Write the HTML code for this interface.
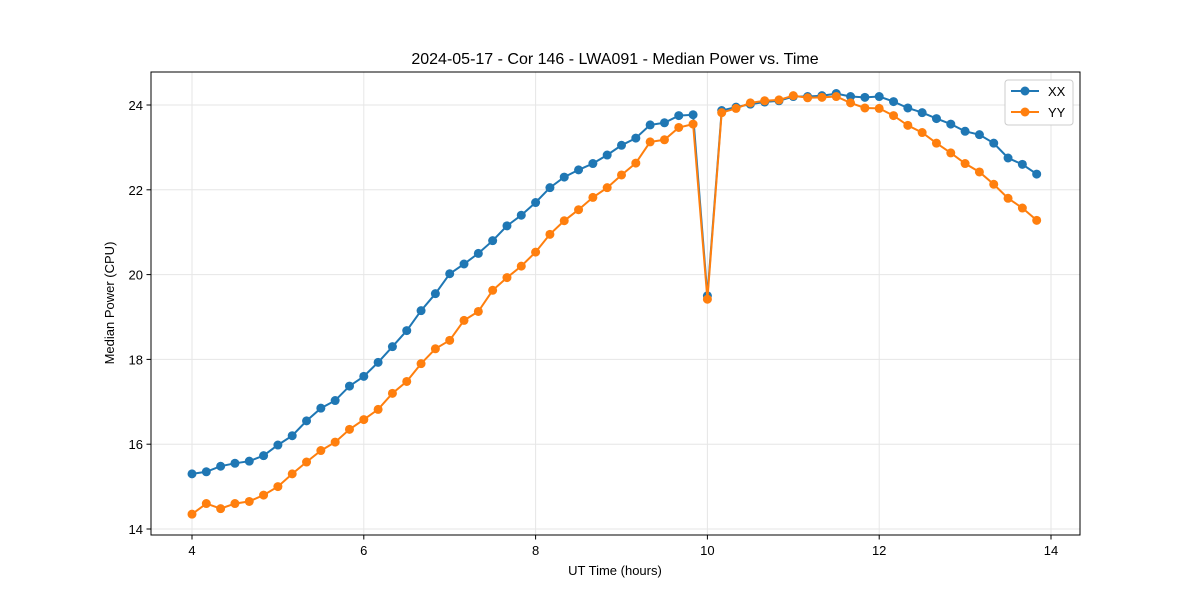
<!DOCTYPE html>
<html><head><meta charset="utf-8"><style>
html,body{margin:0;padding:0;background:#fff;}
svg{display:block;font-family:"Liberation Sans","DejaVu Sans",sans-serif;}
</style></head><body>
<svg id="chart" width="1200" height="600" viewBox="0 0 1200 600">
<rect x="0" y="0" width="1200" height="600" fill="#fff"/>
<text x="615" y="64" text-anchor="middle" font-size="16" fill="#000">2024-05-17 - Cor 146 - LWA091 - Median Power vs. Time</text>
<g id="grid"></g>
<g id="series"></g>
<rect x="151" y="72" width="929" height="463" fill="none" stroke="#000" stroke-width="1"/>
<g id="axes"></g>
<text x="615" y="575" text-anchor="middle" font-size="13">UT Time (hours)</text>
<text x="114" y="303" text-anchor="middle" font-size="13" transform="rotate(-90 114 303)">Median Power (CPU)</text>
<g>
<rect x="1005" y="80" width="68" height="45" rx="3" fill="#fff" stroke="#ccc"/>
<g>
<line x1="1011" y1="91" x2="1039" y2="91" stroke="#1f77b4" stroke-width="2"/>
<circle cx="1025" cy="91" r="4.5" fill="#1f77b4"/>
<text x="1048" y="96" font-size="13">XX</text></g>
<g>
<line x1="1011" y1="112" x2="1039" y2="112" stroke="#ff7f0e" stroke-width="2"/>
<circle cx="1025" cy="112" r="4.5" fill="#ff7f0e"/>
<text x="1048" y="117" font-size="13">YY</text></g>
</g>
</svg>
<script>
const times = [];
for (let i = 0; i < 60; i++) times.push(4 + i / 6);
const xxValues = [15.3,15.35,15.48,15.55,15.6,15.73,15.98,16.2,16.55,16.85,17.03,17.37,17.6,17.93,18.3,18.68,19.15,19.55,20.02,20.25,20.5,20.8,21.15,21.4,21.7,22.05,22.3,22.47,22.62,22.82,23.05,23.22,23.53,23.58,23.75,23.77,19.5,23.87,23.95,24.02,24.07,24.1,24.2,24.2,24.22,24.27,24.2,24.18,24.2,24.08,23.93,23.82,23.68,23.55,23.38,23.3,23.1,22.75,22.6,22.37];
const yyValues = [14.35,14.6,14.48,14.6,14.65,14.8,15.0,15.3,15.58,15.85,16.05,16.35,16.58,16.82,17.2,17.48,17.9,18.25,18.45,18.92,19.13,19.63,19.93,20.2,20.53,20.95,21.27,21.53,21.82,22.05,22.35,22.63,23.13,23.18,23.47,23.55,19.42,23.82,23.92,24.05,24.1,24.12,24.22,24.17,24.18,24.2,24.05,23.93,23.92,23.75,23.52,23.35,23.1,22.87,22.62,22.42,22.13,21.8,21.57,21.28];
const xTicks = [4,6,8,10,12,14];
const yTicks = [14,16,18,20,22,24];

const NS = "http://www.w3.org/2000/svg";
function xs(v){ return 192 + (v - 4) * 85.9; }
function ys(v){ return 529 - (v - 14) * 42.4; }
function mk(tag, attrs, parent){ const e = document.createElementNS(NS, tag); for (const k in attrs) e.setAttribute(k, attrs[k]); parent.appendChild(e); return e; }

const grid = document.getElementById('grid');
const axes = document.getElementById('axes');
xTicks.forEach(t => {
  const x = xs(t);
  const g = mk('line', {x1:x, x2:x, y1:72, y2:535, stroke:'#e6e6e6', 'stroke-width':1}, grid);
  
  
  mk('line', {x1:x, x2:x, y1:535, y2:539.5, stroke:'#000'}, axes);
  const tx = mk('text', {x:x, y:555, 'text-anchor':'middle', 'font-size':13}, axes);
  tx.textContent = t;
  
  
});
yTicks.forEach(t => {
  const y = ys(t);
  const g = mk('line', {x1:151, x2:1080, y1:y, y2:y, stroke:'#e6e6e6', 'stroke-width':1}, grid);
  
  
  mk('line', {x1:146.5, x2:151, y1:y, y2:y, stroke:'#000'}, axes);
  const tx = mk('text', {x:143, y:y + 5, 'text-anchor':'end', 'font-size':13}, axes);
  tx.textContent = t;
  
  
});

const series = document.getElementById('series');
function draw(vals, color, name){
  const g = mk('g', {}, series);
  
  
  const pts = vals.map((v, i) => xs(times[i]).toFixed(1) + ',' + ys(v).toFixed(1)).join(' ');
  mk('polyline', {points:pts, fill:'none', stroke:color, 'stroke-width':2}, g);
  vals.forEach((v, i) => {
    const c = mk('circle', {cx:xs(times[i]), cy:ys(v), r:4.5, fill:color}, g);
    
    
  });
}
draw(xxValues, '#1f77b4', 'series-xx');
draw(yyValues, '#ff7f0e', 'series-yy');
</script>
</body></html>
